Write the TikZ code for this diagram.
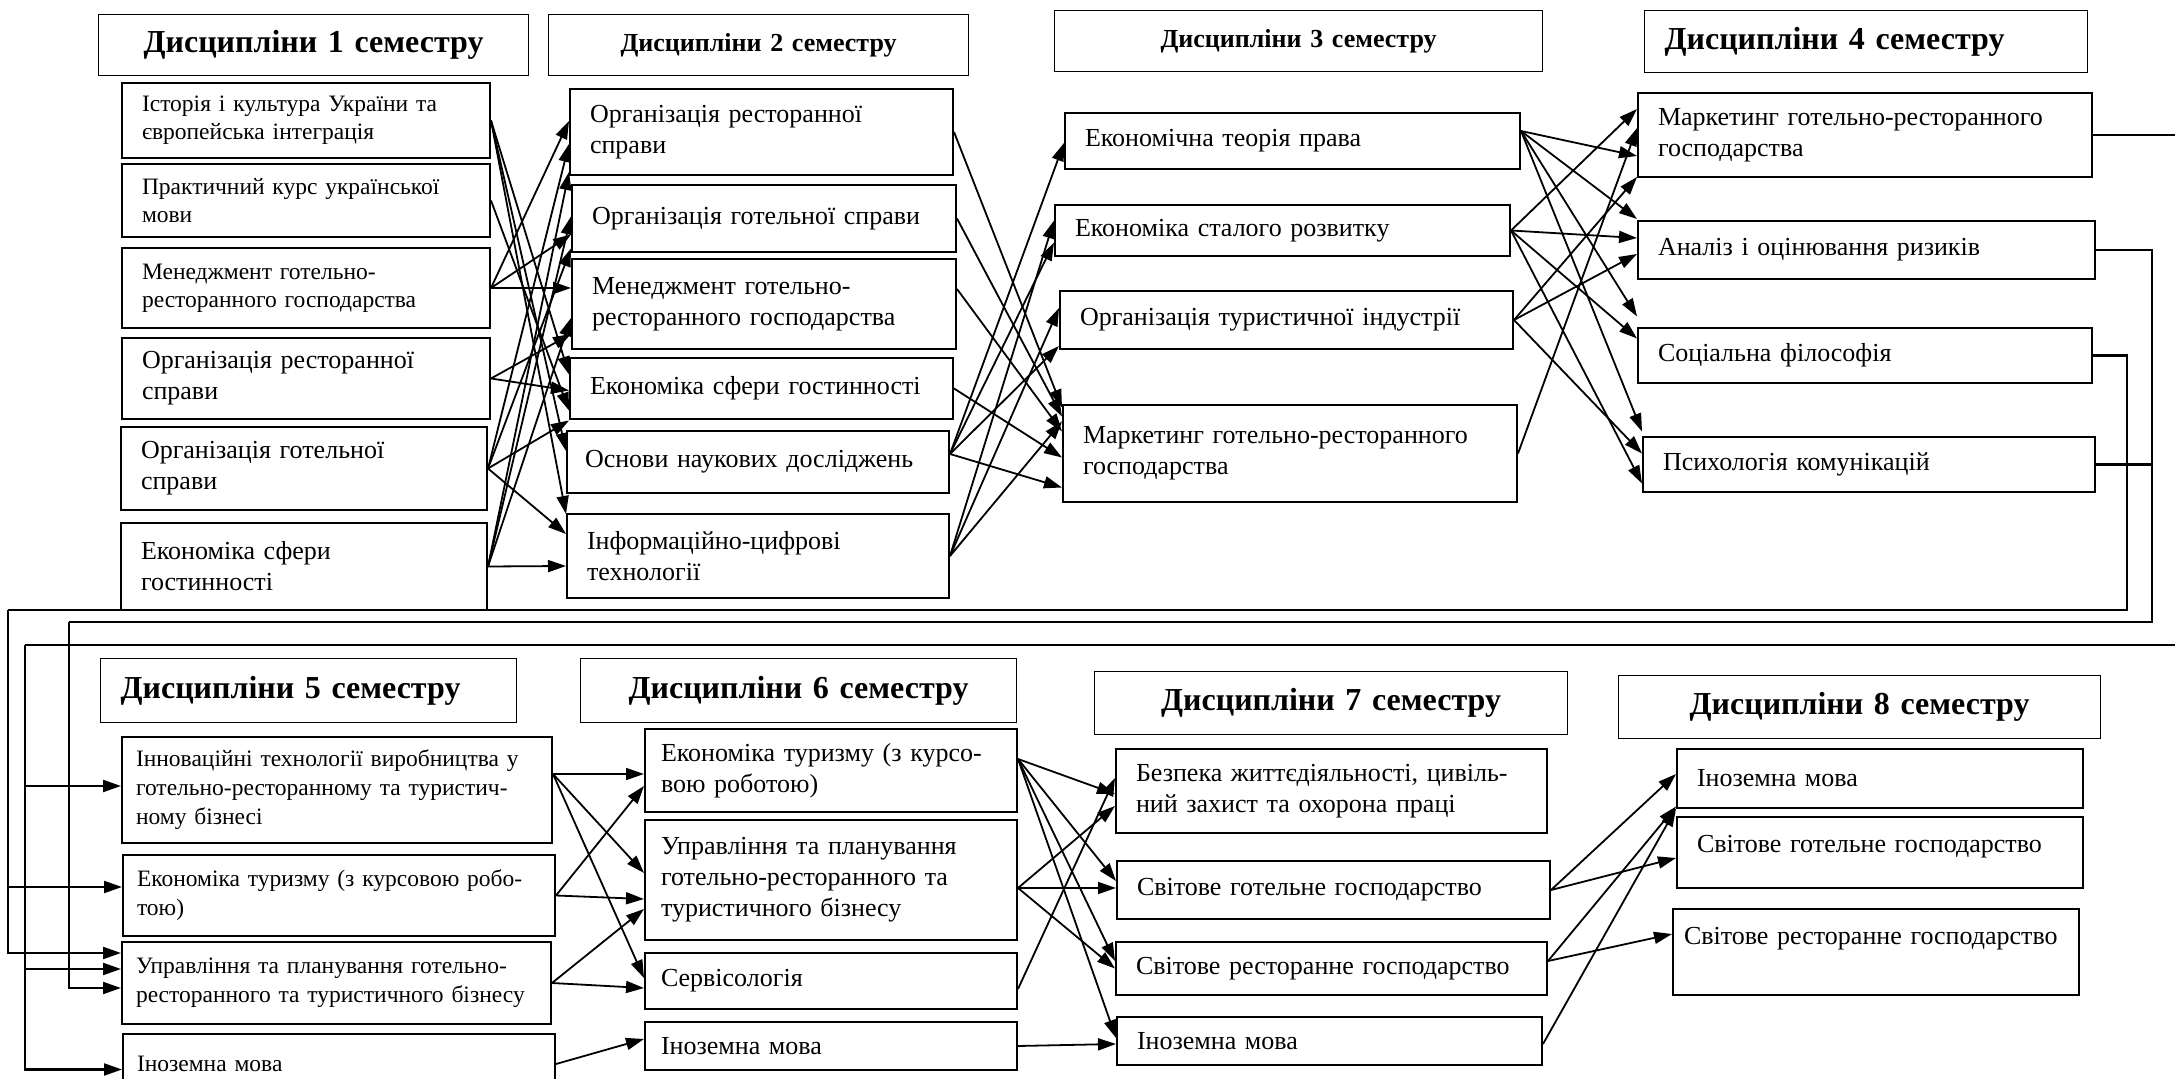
\documentclass[tikz,border=0pt]{standalone}
\usepackage{fontspec}
\setmainfont{Liberation Serif}
\usepackage{tikz}
\usetikzlibrary{arrows.meta}

\begin{document}
\begin{tikzpicture}[
    x=0.5pt, y=-0.5pt,
    sem/.style={draw, line width=.6pt, anchor=north west, inner xsep=10pt, align=center, font=\fontsize{16}{19}\selectfont\bfseries},
    semsm/.style={font=\fontsize{13}{16}\selectfont\bfseries},
    disc/.style={draw, line width=1pt, anchor=north west, inner xsep=10pt, align=left, font=\fontsize{13}{15.5}\selectfont},
    sm/.style={font=\fontsize{11.75}{14}\selectfont},
    smv/.style={font=\fontsize{11.75}{14.5}\selectfont, inner xsep=7pt},
    arr/.style={-{Triangle[length=9pt,width=6pt]}, line width=.9pt},
    bus/.style={line width=1.1pt},
    fb/.style={bus, -{Triangle[length=9pt,width=6pt]}}
]
\useasboundingbox (0,0) rectangle (2175,1079);

% semester headers
\node[sem, text width=195pt, minimum height=30.5pt] (h1) at (98,14) {Дисципліни 1 семестру};
\node[sem, semsm, text width=190pt, minimum height=30.5pt] (h2) at (548,14) {Дисципліни 2 семестру};
\node[sem, semsm, text width=224pt, minimum height=30.5pt] (h3) at (1054,10) {Дисципліни 3 семестру};
\node[sem, text width=201.5pt, minimum height=31pt, align=left] (h4) at (1644,10) {Дисципліни 4 семестру};
\node[sem, text width=188pt, minimum height=32pt, align=left] (h5) at (100,658) {Дисципліни 5 семестру};
\node[sem, text width=198pt, minimum height=32pt] (h6) at (580,658) {Дисципліни 6 семестру};
\node[sem, text width=216.5pt, minimum height=31.5pt] (h7) at (1094,671) {Дисципліни 7 семестру};
\node[sem, text width=221pt, minimum height=31.5pt] (h8) at (1618,675) {Дисципліни 8 семестру};

% 1 semester
\node[disc, sm, text width=164pt, minimum height=37.5pt] (s1a) at (121,82) {Історія і культура України та\\європейська інтеграція};
\node[disc, sm, text width=164pt, minimum height=36.5pt] (s1b) at (121,163) {Практичний курс української\\мови};
\node[disc, sm, text width=164pt, minimum height=40pt] (s1c) at (121,247) {Менеджмент готельно-\\ресторанного господарства};
\node[disc, text width=164pt, minimum height=40.5pt] (s1d) at (121,337) {Організація ресторанної\\справи};
\node[disc, text width=163pt, minimum height=41.5pt] (s1e) at (120,426) {Організація готельної\\справи};
\node[disc, text width=163pt, minimum height=43.5pt] (s1f) at (120,522) {Економіка сфери\\гостинності};

% 2 semester
\node[disc, text width=171.5pt, minimum height=43pt] (s2a) at (569,88) {Організація ресторанної\\справи};
\node[disc, text width=172pt, minimum height=33.5pt] (s2b) at (571,184) {Організація готельної справи};
\node[disc, text width=172pt, minimum height=45pt] (s2c) at (571,258) {Менеджмент готельно-\\ресторанного господарства};
\node[disc, text width=171.5pt, minimum height=30.5pt] (s2d) at (569,357) {Економіка сфери гостинності};
\node[disc, text width=173pt, inner xsep=9pt, minimum height=31pt] (s2e) at (566,430) {Основи наукових досліджень};
\node[disc, text width=171pt, minimum height=42pt] (s2f) at (566,513) {Інформаційно-цифрові\\технології};

% 3 semester
\node[disc, text width=207.5pt, minimum height=28pt] (s3a) at (1064,112) {Економічна теорія права};
\node[disc, text width=207.5pt, minimum height=25.5pt] (s3b) at (1054,204) {Економіка сталого розвитку};
\node[disc, text width=206.5pt, minimum height=29pt] (s3c) at (1059,290) {Організація туристичної індустрії};
\node[disc, text width=207pt, minimum height=48.5pt] (s3d) at (1062,404) {Маркетинг готельно-ресторанного\\господарства};

% 4 semester
\node[disc, text width=207pt, minimum height=42pt] (s4a) at (1637,92) {Маркетинг готельно-ресторанного\\господарства};
\node[disc, text width=208.5pt, minimum height=29pt] (s4b) at (1637,220) {Аналіз і оцінювання ризиків};
\node[disc, text width=207pt, minimum height=27.5pt] (s4c) at (1637,327) {Соціальна філософія};
\node[disc, text width=206pt, minimum height=27.5pt] (s4d) at (1642,436) {Психологія комунікацій};

% 5 semester
\node[disc, smv, text width=201pt, minimum height=53pt] (s5a) at (121,736) {Інноваційні технології виробництва у\\готельно-ресторанному та туристич-\\ному бізнесі};
\node[disc, smv, text width=202pt, minimum height=40.5pt] (s5b) at (122,854) {Економіка туризму (з курсовою робо-\\тою)};
\node[disc, smv, text width=200.5pt, minimum height=41pt] (s5c) at (121,941) {Управління та планування готельно-\\ресторанного та туристичного бізнесу};
\node[disc, smv, text width=202pt, minimum height=30pt] (s5d) at (122,1033) {Іноземна мова};

% 6 semester
\node[disc, text width=170pt, inner xsep=8pt, minimum height=41.5pt] (s6a) at (644,728) {Економіка туризму (з курсо-\\вою роботою)};
\node[disc, text width=170pt, inner xsep=8pt, minimum height=60pt] (s6b) at (644,819) {Управління та планування\\готельно-ресторанного та\\туристичного бізнесу};
\node[disc, text width=170pt, inner xsep=8pt, minimum height=28pt] (s6c) at (644,952) {Сервісологія};
\node[disc, text width=170pt, inner xsep=8pt, minimum height=24pt] (s6d) at (644,1021) {Іноземна мова};

% 7 semester
\node[disc, text width=195.5pt, minimum height=42pt] (s7a) at (1115,748) {Безпека життєдіяльності, цивіль-\\ний захист та охорона праці};
\node[disc, text width=196.5pt, minimum height=29pt] (s7b) at (1116,860) {Світове готельне господарство};
\node[disc, text width=195.5pt, minimum height=26.5pt] (s7c) at (1115,941) {Світове ресторанне господарство};
\node[disc, text width=192.5pt, minimum height=24pt] (s7d) at (1116,1016) {Іноземна мова};

% 8 semester
\node[disc, text width=183pt, minimum height=29.5pt] (s8a) at (1676,748) {Іноземна мова};
\node[disc, text width=183pt, minimum height=35.5pt, text depth=8.5pt] (s8b) at (1676,816) {Світове готельне господарство};
\node[disc, text width=192pt, inner xsep=5.5pt, minimum height=43pt, text depth=16pt] (s8c) at (1672,908) {Світове ресторанне господарство};

% 1 -> 2
\draw[arr] (s1a.east) -- ([yshift=7pt]s2d.west);
\draw[arr] (s1a.east) -- ([yshift=5.5pt]s2e.west);
\draw[arr] (s1a.east) -- ([yshift=21pt]s2f.west);
\draw[arr] (s1b.east) -- ([yshift=-11pt]s2d.west);
\draw[arr] (s1c.east) -- ([yshift=5.5pt]s2a.west);
\draw[arr] (s1c.east) -- ([yshift=-8pt]s2b.west);
\draw[arr] (s1c.east) -- ([yshift=8pt]s2c.west);
\draw[arr] (s1d.east) -- ([yshift=-15pt]s2c.west);
\draw[arr] (s1d.east) -- ([yshift=-1pt]s2d.west);
\draw[arr] (s1e.east) -- ([yshift=-6pt]s2a.west);
\draw[arr] (s1e.east) -- ([yshift=-15pt]s2b.west);
\draw[arr] (s1e.east) -- ([yshift=-16pt]s2d.west);
\draw[arr] (s1e.east) -- ([yshift=11pt]s2f.west);
\draw[arr] (s1f.east) -- ([yshift=-20pt]s2a.west);
\draw[arr] (s1f.east) -- ([yshift=1pt]s2b.west);
\draw[arr] (s1f.east) -- ([yshift=-7pt]s2c.west);
\draw[arr] (s1f.east) -- ([yshift=-5pt]s2f.west);

% 2 -> 3
\draw[arr] (s2a.east) -- ([yshift=23pt]s3d.west);
\draw[arr] (s2b.east) -- ([yshift=18.5pt]s3d.west);
\draw[arr] ([yshift=7.5pt]s2c.east) -- ([yshift=11pt]s3d.west);
\draw[arr] (s2d.east) -- ([yshift=-2pt]s3d.west);
\draw[arr] ([yshift=4pt]s2e.east) -- ([yshift=-1pt]s3a.west);
\draw[arr] ([yshift=4pt]s2e.east) -- ([yshift=-6pt]s3b.west);
\draw[arr] ([yshift=4pt]s2e.east) -- ([yshift=-13pt]s3c.west);
\draw[arr] ([yshift=4pt]s2e.east) -- ([yshift=-17pt]s3d.west);
\draw[arr] (s2f.east) -- ([yshift=5pt]s3b.west);
\draw[arr] (s2f.east) -- ([yshift=6pt]s3c.west);
\draw[arr] (s2f.east) -- ([yshift=16pt]s3d.west);

% 3 -> 4
\draw[arr] ([yshift=5pt]s3a.east) -- ([yshift=-10.5pt]s4a.west);
\draw[arr] ([yshift=5pt]s3a.east) -- ([yshift=15.5pt]s4b.west);
\draw[arr] ([yshift=5pt]s3a.east) -- ([yshift=19.5pt]s4c.west);
\draw[arr] ([yshift=5pt]s3a.east) -- ([yshift=16.5pt]s4d.west);
\draw[arr] (s3b.east) -- ([yshift=13pt]s4a.west);
\draw[arr] (s3b.east) -- ([yshift=6pt]s4b.west);
\draw[arr] (s3b.east) -- ([yshift=8.5pt]s4c.west);
\draw[arr] (s3b.east) -- ([yshift=-9.5pt]s4d.west);
\draw[arr] (s3c.east) -- ([yshift=-21pt]s4a.west);
\draw[arr] (s3c.east) -- ([yshift=-2pt]s4b.west);
\draw[arr] (s3c.east) -- ([yshift=5.5pt]s4d.west);
\draw[arr] (s3d.east) -- ([yshift=3.5pt]s4a.west);

% 4 -> 5
\coordinate (eA) at (2180,645);
\coordinate (wA) at (25,645);
\coordinate (eB) at (2152,622);
\coordinate (wB) at (69,622);
\coordinate (eC) at (2127,610);
\coordinate (wC) at (8,610);
\draw[bus] (s4a.east) -- (s4a.east -| eA);
\draw[bus] (eA) -- (wA);
\draw[bus] (s4b.east) -| (eB) -- (wB);
\draw[bus] (s4d.east) -- (s4d.east -| eB);
\draw[bus] (s4c.east) -| (eC) -- (wC);
\draw[fb] (wA) |- ([yshift=2pt]s5a.west);
\draw[fb] (wA) |- ([yshift=7pt]s5c.west);
\draw[fb] (wA) |- ([yshift=-2.75pt]s5d.west);
\draw[fb] (wB) |- ([yshift=-2.5pt]s5c.west);
\draw[fb] (wC) |- ([yshift=4.25pt]s5b.west);
\draw[fb] (wC) |- ([yshift=15pt]s5c.west);

% 5 -> 6
\draw[arr] ([yshift=8pt]s5a.east) -- ([yshift=-1.75pt]s6a.west);
\draw[arr] ([yshift=8pt]s5a.east) -- ([yshift=3.5pt]s6b.west);
\draw[arr] ([yshift=8pt]s5a.east) -- ([yshift=1.5pt]s6c.west);
\draw[arr] (s5b.east) -- ([yshift=-7.75pt]s6a.west);
\draw[arr] (s5b.east) -- ([yshift=-9.5pt]s6b.west);
\draw[arr] (s5c.east) -- ([yshift=-14.5pt]s6b.west);
\draw[arr] (s5c.east) -- ([yshift=-3.5pt]s6c.west);
\draw[arr] (s5d.east) -- ([yshift=3.5pt]s6d.west);

% 6 -> 7
\draw[arr] ([yshift=5.75pt]s6a.east) -- ([yshift=-1.5pt]s7a.west);
\draw[arr] ([yshift=5.75pt]s6a.east) -- ([yshift=4.5pt]s7b.west);
\draw[arr] ([yshift=5.75pt]s6a.east) -- ([yshift=3.75pt]s7c.west);
\draw[arr] ([yshift=5.75pt]s6a.east) -- ([yshift=1.5pt]s7d.west);
\draw[arr] ([yshift=-4pt]s6b.east) -- ([yshift=-7.5pt]s7a.west);
\draw[arr] ([yshift=-4pt]s6b.east) -- ([yshift=1pt]s7b.west);
\draw[arr] ([yshift=-4pt]s6b.east) -- (s7c.west);
\draw[arr] ([yshift=-4pt]s6c.east) -- ([yshift=6.5pt]s7a.west);
\draw[arr] (s6d.east) -- ([yshift=-1.5pt]s7d.west);

% 7 -> 8
\draw[arr] (s7b.east) -- ([yshift=2.25pt]s8a.west);
\draw[arr] (s7b.east) -- ([yshift=-2.75pt]s8b.west);
\draw[arr] ([yshift=3.75pt]s7c.east) -- ([yshift=-14pt]s8a.west);
\draw[arr] ([yshift=3.75pt]s7c.east) -- ([yshift=9pt]s8c.west);
\draw[arr] ([yshift=-1.5pt]s7d.east) -- ([yshift=-15pt]s8a.west);
\end{tikzpicture}
\end{document}
